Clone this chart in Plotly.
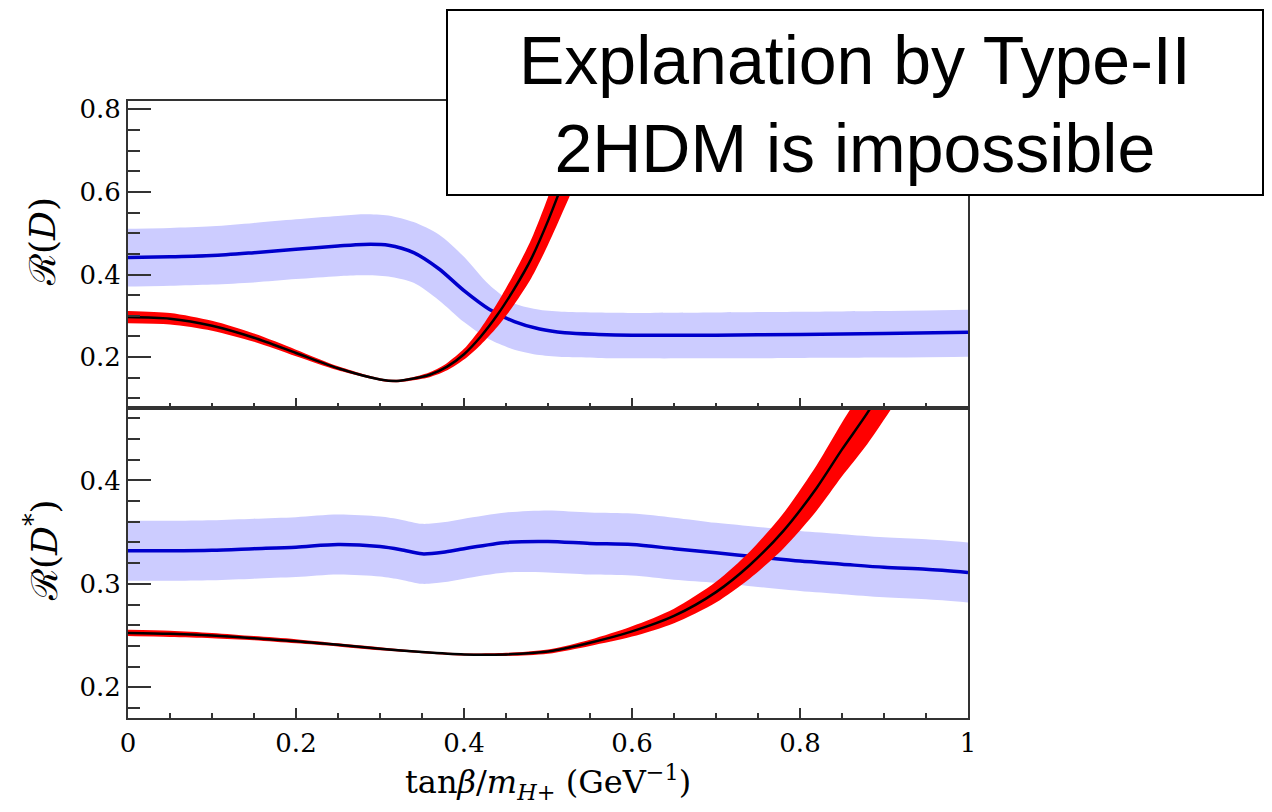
import plotly.graph_objects as go

# ---------------- data ----------------
# Top panel: R(D)
x_blue_top = [0, 0.05, 0.1, 0.15, 0.2, 0.25, 0.28, 0.31, 0.34, 0.37, 0.40,
              0.43, 0.46, 0.49, 0.52, 0.56, 0.6, 0.7, 0.8, 0.9, 1.0]
rd_blue = [0.441, 0.443, 0.446, 0.453, 0.461, 0.469, 0.473, 0.471, 0.453, 0.414, 0.361,
           0.316, 0.286, 0.268, 0.259, 0.255, 0.253, 0.253, 0.255, 0.257, 0.260]
rd_blue_hi = [0.511, 0.513, 0.517, 0.525, 0.534, 0.542, 0.546, 0.543, 0.527, 0.497, 0.443,
              0.375, 0.330, 0.315, 0.310, 0.308, 0.307, 0.308, 0.310, 0.312, 0.315]
rd_blue_lo = [0.371, 0.373, 0.376, 0.381, 0.389, 0.396, 0.398, 0.395, 0.380, 0.338, 0.285,
              0.243, 0.218, 0.205, 0.200, 0.198, 0.197, 0.197, 0.198, 0.199, 0.201]

x_red_top = [0, 0.05, 0.1, 0.15, 0.2, 0.25, 0.3, 0.32, 0.34, 0.36, 0.38, 0.40,
             0.42, 0.44, 0.46, 0.48, 0.50, 0.52, 0.54, 0.56, 0.58]
rd_red = [0.297, 0.293, 0.276, 0.247, 0.210, 0.173, 0.146, 0.142, 0.148, 0.158, 0.177, 0.207,
          0.250, 0.303, 0.366, 0.438, 0.530, 0.635, 0.745, 0.865, 0.990]
rd_red_err = [0.015, 0.014, 0.012, 0.010, 0.008, 0.005, 0.003, 0.003, 0.004, 0.006, 0.009, 0.013,
              0.020, 0.029, 0.038, 0.047, 0.058, 0.072, 0.088, 0.105, 0.120]

# Bottom panel: R(D*)
x_blue_bot = [0, 0.05, 0.1, 0.15, 0.2, 0.25, 0.3, 0.325, 0.35, 0.375, 0.4, 0.45, 0.5,
              0.55, 0.6, 0.65, 0.7, 0.75, 0.8, 0.85, 0.9, 0.95, 1.0]
rds_blue = [0.332, 0.332, 0.3325, 0.334, 0.3355, 0.338, 0.336, 0.333, 0.329, 0.3305, 0.334, 0.340, 0.341,
            0.339, 0.338, 0.334, 0.330, 0.326, 0.322, 0.319, 0.316, 0.314, 0.311]
rds_blue_err = [0.029, 0.029, 0.029, 0.029, 0.029, 0.029, 0.029, 0.029, 0.029, 0.029, 0.029, 0.029, 0.030,
                0.030, 0.030, 0.030, 0.029, 0.029, 0.029, 0.029, 0.029, 0.029, 0.029]

x_red_bot = [0, 0.05, 0.1, 0.15, 0.2, 0.25, 0.3, 0.35, 0.4, 0.45, 0.5, 0.55, 0.6, 0.65,
             0.7, 0.74, 0.78, 0.82, 0.85, 0.88, 0.91, 0.93]
rds_red = [0.2525, 0.2517, 0.250, 0.2475, 0.2445, 0.241, 0.2372, 0.234, 0.2317, 0.2318, 0.2345, 0.243,
           0.254, 0.269, 0.292, 0.318, 0.351, 0.393, 0.430, 0.465, 0.505, 0.535]
rds_red_err = [0.003, 0.003, 0.0025, 0.002, 0.002, 0.0015, 0.0015, 0.001, 0.001, 0.0015, 0.002, 0.003,
               0.005, 0.007, 0.010, 0.013, 0.017, 0.022, 0.026, 0.030, 0.034, 0.037]

x_tick_vals = [0, 0.2, 0.4, 0.6, 0.8, 1]
title_text = "Explanation by Type-II<br>2HDM is impossible"

# ---------------- styling ----------------
W, H = 1272, 812
BAND_BLUE = "rgb(204,204,255)"
LINE_BLUE = "rgb(0,0,204)"
RED = "rgb(255,0,0)"
AX = "#333333"
SERIF = "DejaVu Serif, Liberation Serif, serif"

fig = go.Figure()


def band(x, lo, hi, color, xa, ya):
    fig.add_trace(go.Scatter(x=x, y=lo, mode="lines", line=dict(width=0, shape="spline", smoothing=0.8),
                             hoverinfo="skip", showlegend=False, xaxis=xa, yaxis=ya))
    fig.add_trace(go.Scatter(x=x, y=hi, mode="lines", line=dict(width=0, shape="spline", smoothing=0.8),
                             fill="tonexty", fillcolor=color, hoverinfo="skip", showlegend=False,
                             xaxis=xa, yaxis=ya))


def line(x, y, color, width, xa, ya):
    fig.add_trace(go.Scatter(x=x, y=y, mode="lines",
                             line=dict(color=color, width=width, shape="spline", smoothing=0.8),
                             showlegend=False, xaxis=xa, yaxis=ya))


# top panel (x2, y2)
band(x_blue_top, rd_blue_lo, rd_blue_hi, BAND_BLUE, "x2", "y2")
line(x_blue_top, rd_blue, LINE_BLUE, 3.5, "x2", "y2")
band(x_red_top, [v - e for v, e in zip(rd_red, rd_red_err)],
     [v + e for v, e in zip(rd_red, rd_red_err)], RED, "x2", "y2")
line(x_red_top, rd_red, "black", 2.5, "x2", "y2")

# bottom panel (x, y)
band(x_blue_bot, [v - e for v, e in zip(rds_blue, rds_blue_err)],
     [v + e for v, e in zip(rds_blue, rds_blue_err)], BAND_BLUE, "x", "y")
line(x_blue_bot, rds_blue, LINE_BLUE, 3.5, "x", "y")
band(x_red_bot, [v - e for v, e in zip(rds_red, rds_red_err)],
     [v + e for v, e in zip(rds_red, rds_red_err)], RED, "x", "y")
line(x_red_bot, rds_red, "black", 2.5, "x", "y")

xdom = [128 / W, 968 / W]
split = 1 - 407.5 / H
ydom_bot = [1 - 718.3 / H, split]
ydom_top = [split, 1 - 100.7 / H]

common_axis = dict(showline=True, linecolor=AX, linewidth=2, mirror=True, showgrid=False,
                   zeroline=False, ticks="inside", tickcolor=AX, tickwidth=2)
TICKFONT = dict(family=SERIF, size=26, color="black")

fig.update_layout(
    width=W, height=H, margin=dict(l=0, r=0, t=0, b=0, pad=0, autoexpand=False),
    paper_bgcolor="white", plot_bgcolor="white", showlegend=False,
    xaxis=dict(domain=xdom, range=[0, 1], anchor="y", tickvals=x_tick_vals, ticklen=10,
               minor=dict(dtick=0.05, tick0=0, ticks="inside", ticklen=5, tickcolor=AX, tickwidth=2),
               tickfont=TICKFONT, automargin=False, **common_axis),
    yaxis=dict(domain=ydom_bot, range=[0.17, 0.4705], anchor="x", dtick=0.1, tick0=0, ticklen=23,
               minor=dict(dtick=0.02, tick0=0, ticks="inside", ticklen=12, tickcolor=AX, tickwidth=2),
               tickfont=TICKFONT, automargin=False, **common_axis),
    xaxis2=dict(domain=xdom, range=[0, 1], anchor="y2", tickvals=x_tick_vals, ticklen=10,
                showticklabels=False, automargin=False,
                minor=dict(dtick=0.05, tick0=0, ticks="inside", ticklen=5, tickcolor=AX, tickwidth=2),
                **common_axis),
    yaxis2=dict(domain=ydom_top, range=[0.078, 0.821], anchor="x2", dtick=0.2, tick0=0, ticklen=23,
                minor=dict(dtick=0.05, tick0=0, ticks="inside", ticklen=12, tickcolor=AX, tickwidth=2),
                tickfont=TICKFONT, automargin=False, **common_axis),
)

# Title box (covers the plot)
fig.add_shape(type="rect", xref="paper", yref="paper",
              x0=447 / W, x1=1263 / W, y0=1 - 195 / H, y1=1 - 10 / H,
              line=dict(color="black", width=2), fillcolor="white", layer="above")
fig.add_annotation(text=title_text, xref="paper", yref="paper",
                   x=(447 + 1263) / 2 / W, y=1 - 104 / H, xanchor="center", yanchor="middle",
                   showarrow=False, align="center",
                   font=dict(family="Liberation Sans, Arial, sans-serif", size=68, color="black"))

# axis titles
fig.add_annotation(text="ℛ(<i>D</i>)", xref="paper", yref="paper", x=42 / W, y=1 - 242 / H,
                   textangle=-90, showarrow=False, xanchor="center", yanchor="middle",
                   font=dict(family=SERIF, size=36, color="black"))
fig.add_annotation(text="ℛ(<i>D</i><sup>*</sup>)", xref="paper", yref="paper", x=42 / W, y=1 - 550 / H,
                   textangle=-90, showarrow=False, xanchor="center", yanchor="middle",
                   font=dict(family=SERIF, size=36, color="black"))
fig.add_annotation(text="tan<i>β</i>/<i>m</i><sub><i>H</i>+</sub> (GeV<sup>−1</sup>)",
                   xref="paper", yref="paper",
                   x=548 / W, y=1 - 782 / H, showarrow=False, xanchor="center", yanchor="middle",
                   font=dict(family=SERIF, size=32, color="black"))

fig.write_html("out.html", post_script="document.body.style.margin='0px';")
